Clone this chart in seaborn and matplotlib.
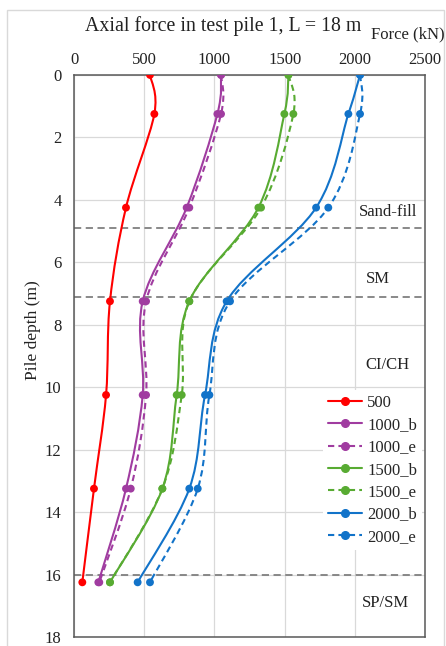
import matplotlib
matplotlib.use("Agg")
import matplotlib.pyplot as plt
from matplotlib.path import Path
from matplotlib.patches import PathPatch, Rectangle
from matplotlib.lines import Line2D
import seaborn as sns
import numpy as np

# depths of the strain gauges (m) and axial force at each (kN)
depth = [0, 1.25, 4.25, 7.25, 10.25, 13.25, 16.25]
f500 = [541, 572, 370, 256, 228, 142, 59]
f1000_b = [1047, 1021, 802, 489, 489, 370, 173]
f1000_e = [1047, 1047, 821, 513, 513, 404, 180]
f1500_b = [1527, 1498, 1313, 821, 731, 629, 256]
f1500_e = [1527, 1562, 1332, 821, 767, 629, 256]
f2000_b = [2037, 1954, 1724, 1087, 933, 821, 453]
f2000_e = [2037, 2037, 1811, 1111, 964, 881, 541]

labels = ["500", "1000_b", "1000_e", "1500_b", "1500_e", "2000_b", "2000_e"]
forces = [f500, f1000_b, f1000_e, f1500_b, f1500_e, f2000_b, f2000_e]

# soil layer boundaries and names
layer_bounds = [4.9, 7.1, 16.0]
layer_names = ["Sand-fill", "SM", "CI/CH", "SP/SM"]
layer_label_depth = [4.4, 6.55, 9.3, 16.9]
layer_label_force = [2236, 2165, 2230, 2215]

colors = ["#ff0000", "#a03ca0", "#a03ca0", "#58ab32", "#58ab32", "#1273c9", "#1273c9"]
styles = ["-", "-", (0, (3, 2)), "-", (0, (3, 2)), "-", (0, (3, 2))]


def smooth_path(x, y):
    # Excel-style smoothed line: cubic bezier through the points
    pts = np.column_stack([x, y]).astype(float)
    n = len(pts)
    verts = [pts[0]]
    codes = [Path.MOVETO]
    for i in range(n - 1):
        p0 = pts[max(i - 1, 0)]
        p1 = pts[i]
        p2 = pts[i + 1]
        p3 = pts[min(i + 2, n - 1)]
        verts += [p1 + (p2 - p0) / 6, p2 - (p3 - p1) / 6, p2]
        codes += [Path.CURVE4] * 3
    return Path(verts, codes)


sns.set_style("white")
plt.rcParams["font.family"] = ["Liberation Serif", "DejaVu Serif"]

fig = plt.figure(figsize=(4.46, 6.46), dpi=100)
ax = fig.add_axes([0.166, 0.014, 0.787, 0.870])

for f, lab, c, ls in zip(forces, labels, colors, styles):
    ax.add_patch(PathPatch(smooth_path(f, depth), facecolor="none", edgecolor=c,
                           lw=1.5, linestyle=ls, zorder=3))
    sns.scatterplot(x=f, y=depth, color=c, s=32, edgecolor="none", ax=ax,
                    legend=False, zorder=4)

for b in layer_bounds:
    ax.axhline(b, color="#808080", lw=1.3, linestyle=(0, (4, 2.5)), zorder=2)

for name, d, fx in zip(layer_names, layer_label_depth, layer_label_force):
    ax.text(fx, d, name, ha="center", va="center", fontsize=12, color="#222222")

ax.set_xlim(0, 2500)
ax.set_ylim(18, 0)
ax.set_xticks(range(0, 2501, 500))
ax.set_yticks(range(0, 19, 2))
ax.xaxis.tick_top()
ax.tick_params(axis="both", length=0, labelsize=12, colors="#222222")
ax.tick_params(axis="x", pad=5)
ax.tick_params(axis="y", pad=9)
ax.grid(True, color="#d9d9d9", lw=0.9)
ax.set_axisbelow(True)
for sp in ax.spines.values():
    sp.set_color("#595959")
    sp.set_linewidth(1.1)
ax.set_xlabel("")
ax.set_ylabel("")

handles = [Line2D([], [], color=c, linestyle=ls, lw=1.5, marker="o", markersize=5.5)
           for c, ls in zip(colors, styles)]
leg = ax.legend(handles, labels, loc="upper left", bbox_to_anchor=(0.71, 0.44),
                frameon=True, fontsize=12, handlelength=2.0, handletextpad=0.35,
                labelspacing=0.38, borderaxespad=0, borderpad=0.3)
leg.get_frame().set_facecolor("white")
leg.get_frame().set_edgecolor("none")
leg.get_frame().set_alpha(1)

fig.text(0.50, 0.960, "Axial force in test pile 1, L = 18 m", ha="center", va="center",
         fontsize=14.3, color="#222222")
fig.text(0.998, 0.946, "Force (kN)", ha="right", va="center", fontsize=12,
         color="#222222")
fig.text(0.074, 0.489, "Pile depth (m)", ha="center", va="center", rotation=90,
         fontsize=12.5, color="#222222")

fig.add_artist(Rectangle((7 / 446, -0.01), 437 / 446, 1.01 - 10 / 646,
                         transform=fig.transFigure, facecolor="none",
                         edgecolor="#d9d9d9", lw=1.0))

fig.savefig("out.png", dpi=100)
